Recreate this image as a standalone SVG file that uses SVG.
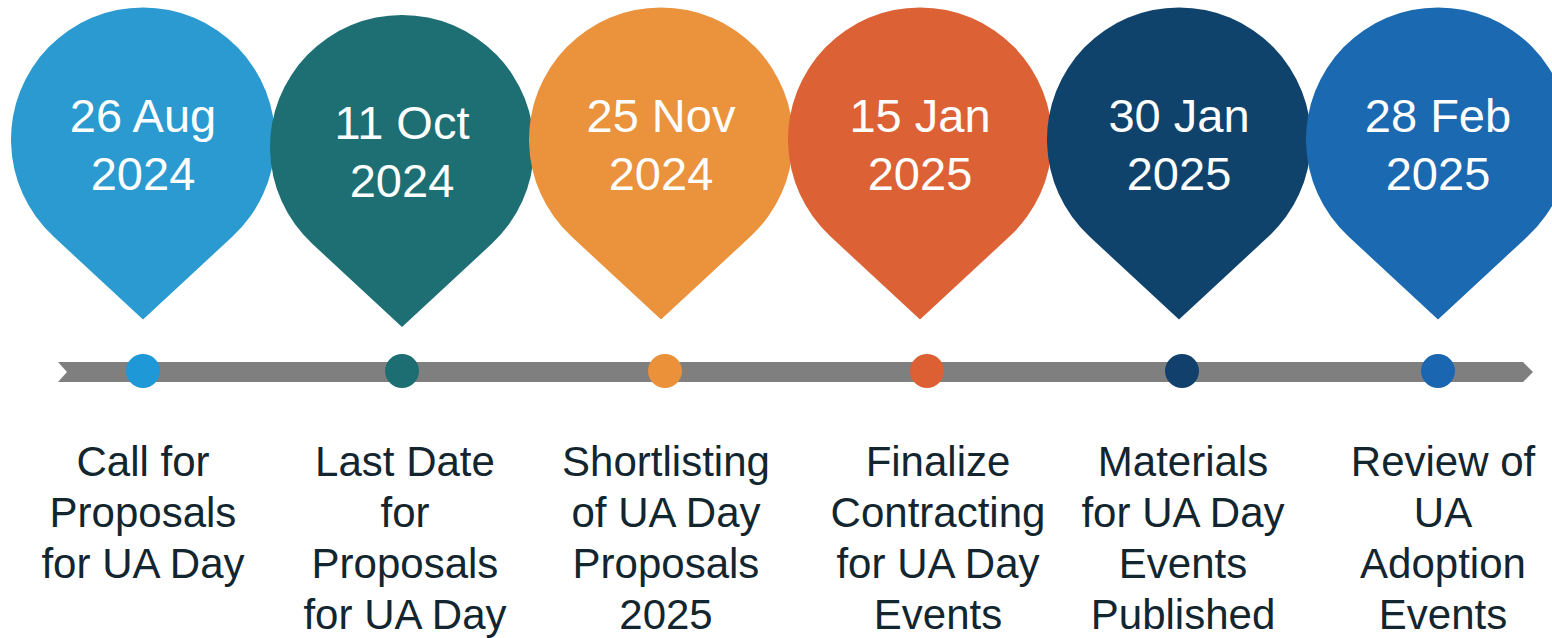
<svg xmlns="http://www.w3.org/2000/svg" xmlns:xlink="http://www.w3.org/1999/xlink" width="1552" height="638" viewBox="0 0 1552 638">
<style>
  .date { font-family: "Liberation Sans", Arial, sans-serif; font-size: 47px; fill: #ffffff; text-anchor: middle; }
  .label { font-family: "Liberation Sans", Arial, sans-serif; font-size: 42px; fill: #13262F; text-anchor: middle; }
  .bar { fill: #7F7F7F; }
</style>
<defs>
  <path id="pin" d="M0,180 L-89.75,96.8 A132,132 0 1 1 89.75,96.8 Z"/>
</defs>
<rect x="0" y="0" width="1552" height="638" fill="#ffffff"/>

<g id="connectors">
  <polygon class="bar" points="58,362 1523,362 1533,372 1523,382 58,382 67,372"/>
</g>

<g id="node1">
  <use xlink:href="#pin" href="#pin" transform="translate(143,139.5)" fill="#2A9AD1"/>
  <text class="date" x="143" y="132">26 Aug</text>
  <text class="date" x="143" y="190">2024</text>
  <circle cx="143" cy="371" r="17" fill="#1E98D6"/>
  <text class="label" x="143" y="476">Call for</text>
  <text class="label" x="143" y="527">Proposals</text>
  <text class="label" x="143" y="578">for UA Day</text>
</g>

<g id="node2">
  <use xlink:href="#pin" href="#pin" transform="translate(402,147)" fill="#1D6F73"/>
  <text class="date" x="402" y="139">11 Oct</text>
  <text class="date" x="402" y="197">2024</text>
  <circle cx="402" cy="371" r="17" fill="#1D6E72"/>
  <text class="label" x="405" y="476">Last Date</text>
  <text class="label" x="405" y="527">for</text>
  <text class="label" x="405" y="578">Proposals</text>
  <text class="label" x="405" y="629">for UA Day</text>
</g>

<g id="node3">
  <use xlink:href="#pin" href="#pin" transform="translate(661,139.5)" fill="#EA923C"/>
  <text class="date" x="661" y="132">25 Nov</text>
  <text class="date" x="661" y="190">2024</text>
  <circle cx="665" cy="371" r="17" fill="#EA913A"/>
  <text class="label" x="666" y="476">Shortlisting</text>
  <text class="label" x="666" y="527">of UA Day</text>
  <text class="label" x="666" y="578">Proposals</text>
  <text class="label" x="666" y="629">2025</text>
</g>

<g id="node4">
  <use xlink:href="#pin" href="#pin" transform="translate(920,139.5)" fill="#DC6236"/>
  <text class="date" x="920" y="132">15 Jan</text>
  <text class="date" x="920" y="190">2025</text>
  <circle cx="927" cy="371" r="17" fill="#DC6033"/>
  <text class="label" x="938" y="476">Finalize</text>
  <text class="label" x="938" y="527">Contracting</text>
  <text class="label" x="938" y="578">for UA Day</text>
  <text class="label" x="938" y="629">Events</text>
</g>

<g id="node5">
  <use xlink:href="#pin" href="#pin" transform="translate(1179,139.5)" fill="#10436C"/>
  <text class="date" x="1179" y="132">30 Jan</text>
  <text class="date" x="1179" y="190">2025</text>
  <circle cx="1182" cy="371" r="17" fill="#10406B"/>
  <text class="label" x="1183" y="476">Materials</text>
  <text class="label" x="1183" y="527">for UA Day</text>
  <text class="label" x="1183" y="578">Events</text>
  <text class="label" x="1183" y="629">Published</text>
</g>

<g id="node6">
  <use xlink:href="#pin" href="#pin" transform="translate(1438,139.5)" fill="#1B69B0"/>
  <text class="date" x="1438" y="132">28 Feb</text>
  <text class="date" x="1438" y="190">2025</text>
  <circle cx="1438" cy="371" r="17" fill="#1A66B0"/>
  <text class="label" x="1443" y="476">Review of</text>
  <text class="label" x="1443" y="527">UA</text>
  <text class="label" x="1443" y="578">Adoption</text>
  <text class="label" x="1443" y="629">Events</text>
</g>
</svg>
